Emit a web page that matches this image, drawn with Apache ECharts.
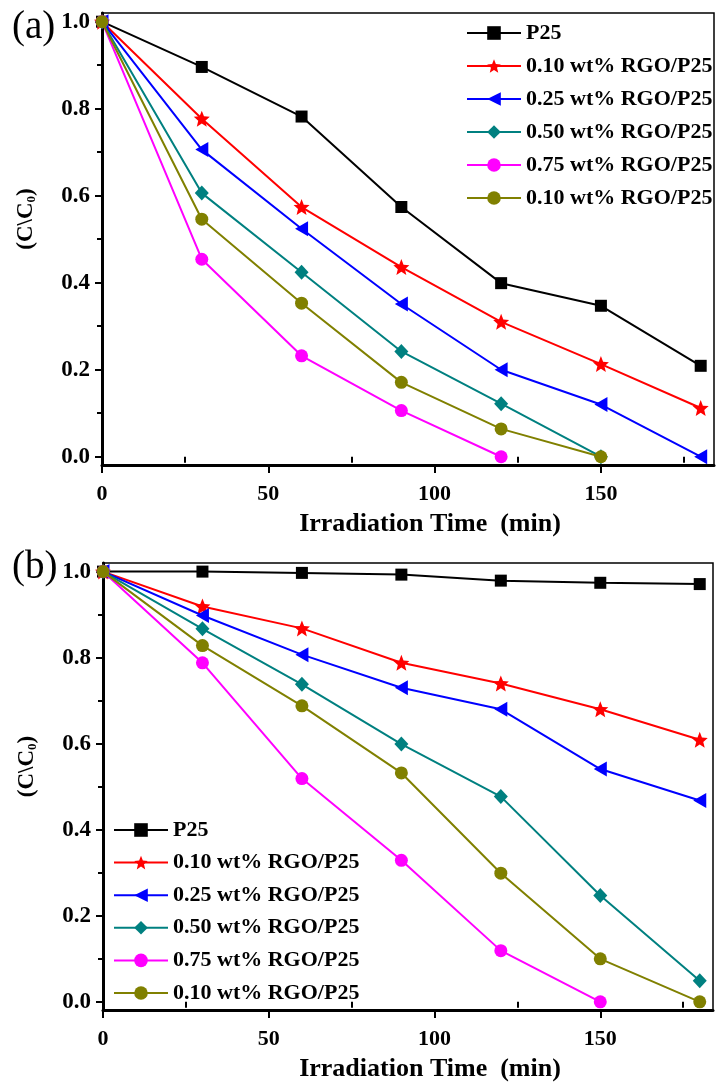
<!DOCTYPE html>
<html>
<head>
<meta charset="utf-8">
<script src="https://cdn.jsdelivr.net/npm/echarts@6/dist/echarts.min.js"></script>
<style>
html,body{margin:0;padding:0;background:#fff;}
#c{width:717px;height:1083px;}
</style>
</head>
<body>
<div id="c"></div>
<script>
// ---- data ----
const xValues = [0, 30, 60, 90, 120, 150, 180];
const seriesNames = ['P25', '0.10 wt% RGO/P25', '0.25 wt% RGO/P25', '0.50 wt% RGO/P25', '0.75 wt% RGO/P25', '0.10 wt% RGO/P25 '];

// panel (a)
const aP25 = [1.0, 0.896, 0.782, 0.574, 0.399, 0.347, 0.209];
const a010 = [1.0, 0.777, 0.574, 0.436, 0.310, 0.213, 0.112];
const a025 = [1.0, 0.706, 0.524, 0.351, 0.200, 0.120, 0.0];
const a050 = [1.0, 0.606, 0.424, 0.242, 0.122, 0.0];
const a075 = [1.0, 0.454, 0.232, 0.106, 0.0];
const a010b = [1.0, 0.546, 0.353, 0.171, 0.064, 0.0];

// panel (b)
const bP25 = [1.0, 1.0, 0.997, 0.993, 0.979, 0.974, 0.971];
const b010 = [1.0, 0.919, 0.868, 0.788, 0.740, 0.680, 0.609];
const b025 = [1.0, 0.898, 0.807, 0.730, 0.680, 0.541, 0.468];
const b050 = [1.0, 0.867, 0.738, 0.599, 0.477, 0.247, 0.049];
const b075 = [1.0, 0.788, 0.519, 0.329, 0.119, 0.0];
const b010b = [1.0, 0.828, 0.688, 0.532, 0.299, 0.100, 0.0];

// ticks
const xTicks = [0, 50, 100, 150];
const xMinor = [25, 75, 125, 175];
const yTicks = [0, 0.2, 0.4, 0.6, 0.8, 1.0];
const yMinor = [0.1, 0.3, 0.5, 0.7, 0.9];

// ---- styles ----
const FONT = 'Liberation Serif';
const colors = ['#000000', '#ff0000', '#0000ff', '#008080', '#ff00ff', '#808000'];
const STAR = 'path://M10,0 L12.6,6.4 L19.5,6.9 L14.2,11.4 L15.9,18.1 L10,14.4 L4.1,18.1 L5.8,11.4 L0.5,6.9 L7.4,6.4 Z';
const TRI_LEFT = 'path://M0,5 L10,0 L10,10 Z';
const symbols = ['rect', STAR, TRI_LEFT, 'diamond', 'circle', 'circle'];
const sizes = [12, 16, [13, 15], [14, 15], 13, 13];

const panels = [
  {arrays: [aP25, a010, a025, a050, a075, a010b]},
  {arrays: [bP25, b010, b025, b050, b075, b010b]}
];

const series = [];
panels.forEach((p, pi) => {
  p.arrays.forEach((arr, si) => {
    series.push({
      type: 'line',
      name: seriesNames[si],
      xAxisIndex: pi,
      yAxisIndex: pi,
      data: arr.map((v, i) => [xValues[i], v]),
      symbol: symbols[si],
      symbolSize: sizes[si],
      showAllSymbol: true,
      color: colors[si],
      lineStyle: {color: colors[si], width: 2},
      itemStyle: {color: colors[si]},
      emphasis: {disabled: true},
      z: 2 + si
    });
  });
});

const X_MIN = 0, X_MAX = 184;
const Y_MIN = -0.019, Y_MAX = 1.02;

function mainX(gi) {
  return {
    type: 'value', gridIndex: gi, position: 'bottom', min: X_MIN, max: X_MAX,
    axisLine: {show: true, onZero: false, lineStyle: {color: '#000', width: 3}},
    axisTick: {show: true, customValues: xTicks, length: 8, lineStyle: {color: '#000', width: 2}},
    axisLabel: {show: true, customValues: xTicks, margin: 18, color: '#000', fontFamily: FONT, fontWeight: 'bold', fontSize: 22},
    splitLine: {show: false},
    name: 'Irradiation Time  (min)', nameLocation: 'middle', nameGap: 46,
    nameTextStyle: {color: '#000', fontFamily: FONT, fontWeight: 'bold', fontSize: 26, padding: [0, 0, 0, 44]}
  };
}
function minorX(gi) {
  return {
    type: 'value', gridIndex: gi, position: 'bottom', min: X_MIN, max: X_MAX,
    axisLine: {show: false},
    axisTick: {show: true, customValues: xMinor, length: 6, lineStyle: {color: '#000', width: 2}},
    axisLabel: {show: false},
    splitLine: {show: false}
  };
}
function mainY(gi) {
  return {
    type: 'value', gridIndex: gi, position: 'left', min: Y_MIN, max: Y_MAX,
    axisLine: {show: true, onZero: false, lineStyle: {color: '#000', width: 3}},
    axisTick: {show: true, customValues: yTicks, length: 7, lineStyle: {color: '#000', width: 2}},
    axisLabel: {show: true, customValues: yTicks, margin: 12, color: '#000', fontFamily: FONT, fontWeight: 'bold', fontSize: 23,
      formatter: v => Number(v).toFixed(1)},
    splitLine: {show: false},
    name: '(C\\C{s|0})', nameLocation: 'middle', nameRotate: 90, nameGap: 64,
    nameTextStyle: {color: '#000', fontFamily: FONT, fontWeight: 'bold', fontSize: 23, padding: [0, 0, 0, 40],
      rich: {s: {fontFamily: FONT, fontWeight: 'bold', fontSize: 13, color: '#000', verticalAlign: 'bottom', padding: [10, 0, 0, 0]}}}
  };
}
function minorY(gi) {
  return {
    type: 'value', gridIndex: gi, position: 'left', min: Y_MIN, max: Y_MAX,
    axisLine: {show: false},
    axisTick: {show: true, customValues: yMinor, length: 5, lineStyle: {color: '#000', width: 2}},
    axisLabel: {show: false},
    splitLine: {show: false}
  };
}

const legendBase = {
  orient: 'vertical', padding: 0, itemWidth: 54, itemHeight: 17, itemGap: 11,
  textStyle: {color: '#000', fontFamily: FONT, fontWeight: 'bold', fontSize: 22, lineHeight: 22},
  selectedMode: false, data: seriesNames
};

const option = {
  animation: false,
  backgroundColor: '#fff',
  title: [
    {text: '(a)', left: 12, top: 8, padding: 0, textStyle: {color: '#000', fontFamily: FONT, fontWeight: 'normal', fontSize: 39}},
    {text: '(b)', left: 12, top: 548, padding: 0, textStyle: {color: '#000', fontFamily: FONT, fontWeight: 'normal', fontSize: 39}}
  ],
  grid: [
    {left: 102, right: 3, top: 13, bottom: 618, show: true, borderColor: '#000', borderWidth: 1.5, backgroundColor: 'transparent'},
    {left: 103, right: 4, top: 563, bottom: 72, show: true, borderColor: '#000', borderWidth: 1.5, backgroundColor: 'transparent'}
  ],
  xAxis: [mainX(0), mainX(1), minorX(0), minorX(1)],
  yAxis: [mainY(0), mainY(1), minorY(0), minorY(1)],
  legend: [
    Object.assign({}, legendBase, {left: 466, top: 22}),
    Object.assign({}, legendBase, {left: 113, top: 819, itemGap: 10.6})
  ],
  series: series
};

const chart = echarts.init(document.getElementById('c'), null, {renderer: 'canvas'});
chart.setOption(option);
</script>
</body>
</html>
